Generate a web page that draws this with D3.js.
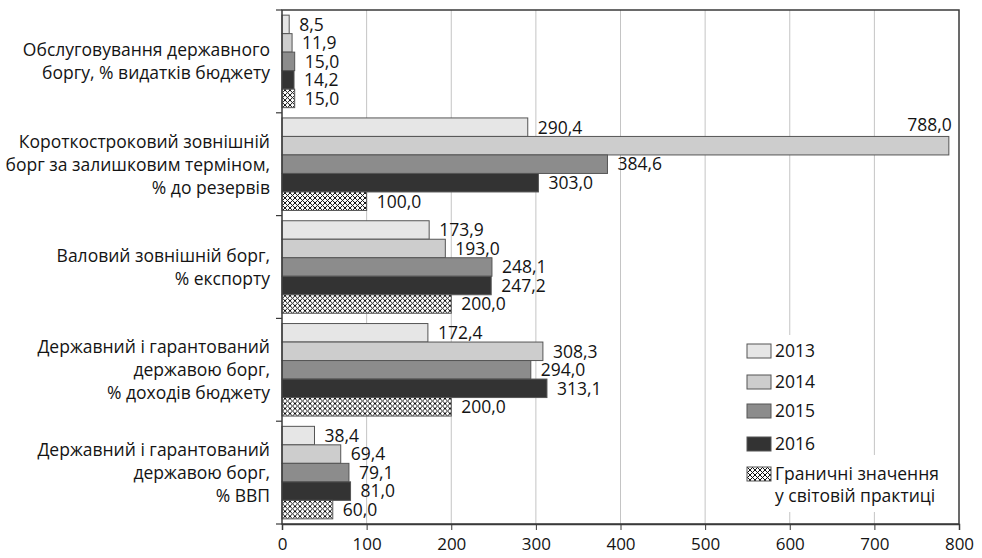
<!DOCTYPE html>
<html>
<head>
<meta charset="utf-8">
<script src="https://cdn.jsdelivr.net/npm/d3@7"></script>
<style>
  html, body { margin: 0; padding: 0; background: #fff; }
  svg { display: block; }
  text { font-family: "Open Sans", "Noto Sans", sans-serif; fill: #141414; }
</style>
</head>
<body>
<svg id="chart" width="982" height="558"></svg>
<script>
// Debt indicators, by year, against world-practice thresholds
const categories = [
  ["Обслуговування державного", "боргу, % видатків бюджету"],
  ["Короткостроковий зовнішній", "борг за залишковим терміном,", "% до резервів"],
  ["Валовий зовнішній борг,", "% експорту"],
  ["Державний і гарантований", "державою борг,", "% доходів бюджету"],
  ["Державний і гарантований", "державою борг,", "% ВВП"]
];
const seriesNames = ["2013", "2014", "2015", "2016", "Граничні значення|у світовій практиці"];
const values2013 = [8.5, 290.4, 173.9, 172.4, 38.4];
const values2014 = [11.9, 788.0, 193.0, 308.3, 69.4];
const values2015 = [15.0, 384.6, 248.1, 294.0, 79.1];
const values2016 = [14.2, 303.0, 247.2, 313.1, 81.0];
const thresholds = [15.0, 100.0, 200.0, 200.0, 60.0];
const xTicks = [0, 100, 200, 300, 400, 500, 600, 700, 800];

const seriesValues = [values2013, values2014, values2015, values2016, thresholds];
const fills = ["#e6e6e6", "#cdcdcd", "#8c8c8c", "#333333", "url(#hatch)"];

const svg = d3.select("#chart");
const plotL = 282, plotR = 959, plotT = 10, plotB = 524;
const fs = 17.5;

// crosshatch fill for the threshold bars
const defs = svg.append("defs");
const pat = defs.append("pattern")
  .attr("id", "hatch").attr("patternUnits", "userSpaceOnUse")
  .attr("width", 5).attr("height", 5);
pat.append("rect").attr("width", 5).attr("height", 5).attr("fill", "#fff");
pat.append("path").attr("d", "M0,0L5,5M5,0L0,5M-1,4L1,6M4,-1L6,1M4,6L6,4M-1,1L1,-1")
  .attr("stroke", "#111").attr("stroke-width", 1);

const x = d3.scaleLinear().domain([0, 800]).range([plotL, plotR]);
const y = d3.scaleBand().domain(d3.range(categories.length)).range([plotT, plotB])
  .paddingInner(0.1).paddingOuter(0.05);
const ySub = d3.scaleBand().domain(d3.range(seriesNames.length)).range([0, y.bandwidth()]);

// gridlines
svg.append("g").selectAll("line").data(xTicks.slice(1, -1)).join("line")
  .attr("x1", d => x(d)).attr("x2", d => x(d))
  .attr("y1", plotT).attr("y2", plotB)
  .attr("stroke", "#c4c4c4").attr("stroke-width", 1);

// bars
const groups = svg.append("g").selectAll("g").data(categories).join("g")
  .attr("transform", (d, i) => `translate(0,${y(i)})`);

const fmt = v => d3.format(".1f")(v).replace(".", ",");

groups.each(function (cat, ci) {
  const g = d3.select(this);
  seriesValues.forEach((vals, si) => {
    const v = vals[ci];
    g.append("rect")
      .attr("x", x(0)).attr("y", ySub(si))
      .attr("width", x(v) - x(0)).attr("height", ySub.bandwidth())
      .attr("fill", fills[si]).attr("stroke", "#555").attr("stroke-width", 1);
    const overflow = x(v) + 50 > plotR;
    g.append("text")
      .attr("x", overflow ? x(v) + 3 : x(v) + 10)
      .attr("y", overflow ? ySub(si) - 5 : ySub(si) + ySub.bandwidth() / 2)
      .attr("dy", overflow ? 0 : "0.36em")
      .attr("text-anchor", overflow ? "end" : "start")
      .attr("font-size", fs)
      .text(fmt(v));
  });
});

// frame
svg.append("rect").attr("x", plotL).attr("y", plotT)
  .attr("width", plotR - plotL).attr("height", plotB - plotT)
  .attr("fill", "none").attr("stroke", "#3a3a3a").attr("stroke-width", 1.5);

// bottom axis
const xAxis = svg.append("g").attr("transform", `translate(0,${plotB})`)
  .call(d3.axisBottom(x).tickValues(xTicks).tickSize(6).tickPadding(8).tickFormat(d3.format("d")));
xAxis.select(".domain").attr("stroke", "#3a3a3a").attr("stroke-width", 1.5);
xAxis.selectAll(".tick line").attr("stroke", "#3a3a3a");
xAxis.selectAll(".tick text").attr("font-size", 17).attr("font-family", "Open Sans").attr("fill", "#141414");

// left axis ticks at category boundaries
const bounds = d3.range(categories.length + 1).map(i => i === categories.length ? plotB : y(i) - y.step() * y.paddingInner() / 2);
svg.append("g").selectAll("line").data(bounds).join("line")
  .attr("x1", plotL - 6).attr("x2", plotL).attr("y1", d => d).attr("y2", d => d)
  .attr("stroke", "#3a3a3a").attr("stroke-width", 1.2);

// category labels
const lineH = 23;
svg.append("g").selectAll("text").data(categories).join("text")
  .attr("text-anchor", "end").attr("font-size", fs)
  .each(function (lines, i) {
    const cy = y(i) + y.bandwidth() / 2;
    const t = d3.select(this);
    lines.forEach((ln, k) => {
      t.append("tspan").attr("x", 270)
        .attr("y", cy + (k - (lines.length - 1) / 2) * lineH)
        .attr("dy", "0.36em").text(ln);
    });
  });

// legend
const leg = svg.append("g");
leg.append("rect").attr("x", 740).attr("y", 335).attr("width", 132).attr("height", 120).attr("fill", "#fff");
leg.append("rect").attr("x", 740).attr("y", 455).attr("width", 216).attr("height", 57).attr("fill", "#fff");
const legY = [351, 382, 411, 444, 474];
seriesNames.forEach((name, i) => {
  leg.append("rect").attr("x", 747).attr("y", legY[i] - 7)
    .attr("width", 24).attr("height", 14)
    .attr("fill", fills[i]).attr("stroke", "#555").attr("stroke-width", 1);
  const t = leg.append("text").attr("font-size", fs);
  name.split("|").forEach((ln, k) => {
    t.append("tspan").attr("x", 775).attr("y", legY[i] + k * 22).attr("dy", "0.36em").text(ln);
  });
});
</script>
</body>
</html>
